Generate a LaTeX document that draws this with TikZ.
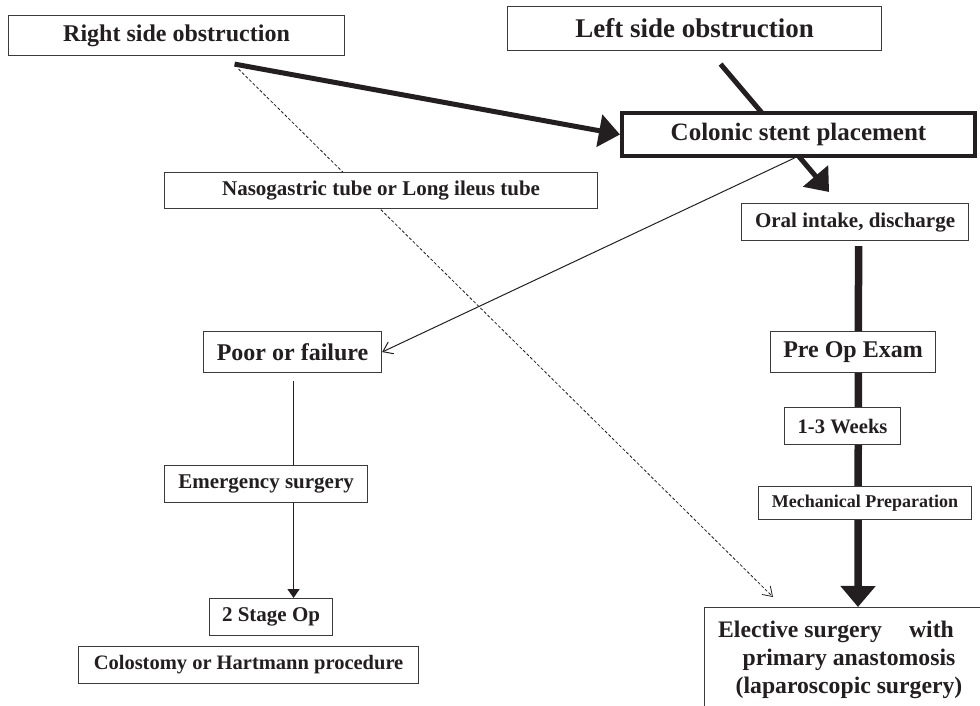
\documentclass[tikz,border=0pt]{standalone}
\usepackage{fontspec}
\setmainfont{Liberation Serif}
\usetikzlibrary{arrows.meta,positioning}
\pgfdeclarelayer{background}
\pgfsetlayers{background,main}
\definecolor{ink}{HTML}{231F20}
\definecolor{edge}{HTML}{3A3A3A}
\newcommand{\fs}[1]{\fontsize{#1}{#1}\selectfont\bfseries}
\tikzset{
  box/.style={draw=edge, line width=1.1pt, fill=white, inner sep=0pt, anchor=north west, text=ink},
  thickarrow/.style={draw=ink, line width=5pt, -{Triangle[length=21pt,width=32pt]}},
  bigarrow/.style={draw=ink, line width=7.5pt, -{Triangle[length=21pt,width=34pt]}},
  thinarrow/.style={draw=ink, line width=1pt, -{Straight Barb[length=9pt,width=13pt]}},
  dasharrow/.style={draw=ink, line width=0.8pt, dash pattern=on 3pt off 2pt, -{Straight Barb[length=9pt,width=12pt]}},
  downarrow/.style={draw=ink, line width=1.4pt, -{Triangle[length=9pt,width=12pt]}}
}
\begin{document}
\begin{tikzpicture}[x=1pt,y=-1pt]
\useasboundingbox (0,0) rectangle (980,706);
\clip (0,0) rectangle (980,706);
% boxes
\node[box, minimum width=336pt, minimum height=40pt, font=\fs{24}] (right) at (8,15) {Right side obstruction};
\node[box, minimum width=374pt, minimum height=44pt, font=\fs{27}] (left) at (507,6) {Left side obstruction};
\node[box, draw=ink, line width=4pt, minimum width=353pt, minimum height=43pt, font=\fs{25}] (stent) at (620,111) {Colonic stent placement};
\node[box, minimum width=433pt, minimum height=36pt, font=\fs{21}] (ngt) at (164,172) {Nasogastric tube or Long ileus tube};
\node[box, minimum width=227pt, minimum height=37pt, font=\fs{21}] (oral) at (741,203) {Oral intake, discharge};
\node[box, minimum width=178pt, minimum height=41pt, font=\fs{24}] (poor) at (203,331) {Poor or failure};
\node[box, minimum width=165pt, minimum height=41pt, font=\fs{24}] (preop) at (770,331) {Pre Op Exam};
\node[box, minimum width=116pt, minimum height=37pt, font=\fs{20.6}] (weeks) at (784,407) {1-3 Weeks};
\node[box, minimum width=203pt, minimum height=37pt, font=\fs{21}] (emerg) at (164,465) {Emergency surgery};
\node[box, minimum width=213pt, minimum height=33pt, font=\fs{18}] (mech) at (758,486) {Mechanical Preparation};
\node[box, minimum width=123pt, minimum height=37pt, font=\fs{21}] (stage) at (209,598) {2 Stage Op};
\node[box, minimum width=340pt, minimum height=37pt, font=\fs{20.5}] (colo) at (78,646) {Colostomy or Hartmann procedure};
\node[box, minimum width=420pt, minimum height=160pt] (elect) at (704,607) {};
\node[anchor=center, align=center, text=ink, inner sep=0pt, font={\fontsize{23.7}{28}\selectfont\bfseries}] (electtext) at (849,660)
  {Elective surgery\hspace{27pt}with\hspace*{26pt}\\primary anastomosis\\(laparoscopic surgery)};
% connectors
\begin{pgfonlayer}{background}
\draw[thickarrow] ([xshift=58pt,yshift=-8pt]right.south) -- (stent.west);
\draw[thickarrow] ([xshift=26pt,yshift=-13pt]left.south) -- ([xshift=-26pt,yshift=11pt]oral.north);
\draw[thinarrow] ([xshift=-4pt]stent.south) -- (poor.east);
\draw[dasharrow] ([xshift=62pt,yshift=-13pt]right.south) -- ([xshift=69pt,yshift=10pt]elect.north west);
\draw[bigarrow] ([xshift=3.5pt,yshift=-5pt]oral.south) -- ([xshift=154pt]elect.north west);
\draw[downarrow] ([xshift=1pt,yshift=-8pt]poor.south) -- ([xshift=22.5pt]stage.north);
\end{pgfonlayer}
\end{tikzpicture}
\end{document}
